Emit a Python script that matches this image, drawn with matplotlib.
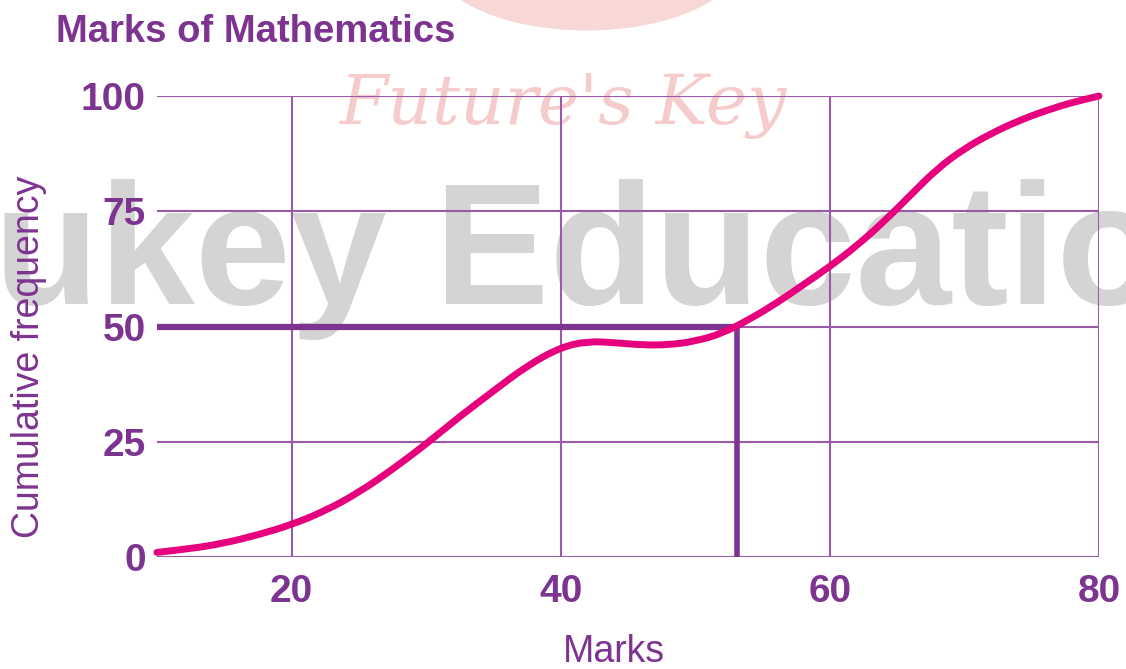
import matplotlib.pyplot as plt
from matplotlib.patches import Ellipse, PathPatch
from matplotlib.path import Path

# cumulative frequency curve (ogive)
marks = [10, 12.5, 15, 17.5, 20, 22.5, 25, 27.5, 30, 32.5, 35, 37.5, 40,
         42, 44, 46, 48, 50, 52, 54, 56, 58, 60, 62, 64, 66, 68, 70, 72,
         74, 76, 78, 80]
cum_freq = [1, 1.8, 3, 4.8, 7, 10, 14, 19, 24.5, 30.5, 36, 41.5, 45.5,
            46.8, 46.5, 46, 46, 46.8, 48.5, 51.5, 55, 59, 63, 67.5, 72.7,
            78.5, 84.3, 88.6, 91.9, 94.6, 96.8, 98.6, 100]
x_ticks = [20, 40, 60, 80]
y_ticks = [0, 25, 50, 75, 100]
median_x = 53.1
median_y = 50

purple = '#7d3490'
grid_c = '#9a5aa8'
pink = '#e6007e'

plt.rcParams['font.family'] = ['Liberation Sans', 'DejaVu Sans']

fig = plt.figure(figsize=(11.26, 6.69), dpi=100)

# watermarks (behind the axes)
fig.patches.append(Ellipse((0.521, 1.06), 0.27, 0.209,
                           transform=fig.transFigure, color='#f7d8d6',
                           zorder=0))
fig.text(-0.005, 0.545, 'ukey Education', fontsize=124, fontweight='bold',
         color='#d4d4d4', ha='left', va='baseline', zorder=0)
fig.text(0.5, 0.815, "Future's Key", fontsize=50, style='italic',
         family='DejaVu Serif', color='#f5cccb', ha='center', va='baseline',
         zorder=0)

ax = fig.add_axes([0.1394, 0.1674, 0.8366, 0.6891])
ax.set_zorder(1)
ax.patch.set_alpha(0)
ax.set_xlim(10, 80)
ax.set_ylim(0, 100)
for s in ax.spines.values():
    s.set_visible(False)

for y in y_ticks:
    ax.axhline(y, color=grid_c, lw=1.5, zorder=1)
for x in x_ticks:
    ax.axvline(x, color=grid_c, lw=1.5, zorder=1)

ax.plot([10, median_x], [median_y, median_y], color=purple, lw=4.5,
        solid_capstyle='butt', zorder=2)
ax.plot([median_x, median_x], [0, median_y], color=purple, lw=4,
        solid_capstyle='butt', zorder=2)

# smooth freehand ogive: quadratic bezier through midpoints of read points
pts = list(zip(marks, cum_freq))
verts = [pts[0]]
codes = [Path.MOVETO]
for i in range(1, len(pts) - 1):
    mid = ((pts[i][0] + pts[i + 1][0]) / 2, (pts[i][1] + pts[i + 1][1]) / 2)
    verts += [pts[i], mid]
    codes += [Path.CURVE3, Path.CURVE3]
verts.append(pts[-1])
codes.append(Path.LINETO)
ax.add_patch(PathPatch(Path(verts, codes), fill=False, edgecolor=pink,
                       lw=5, capstyle='round', joinstyle='round',
                       clip_on=False, zorder=3))

ax.set_xticks(x_ticks)
ax.set_yticks(y_ticks)
ax.tick_params(length=0, labelsize=28, labelcolor=purple)
ax.tick_params(axis='x', pad=12)
ax.tick_params(axis='y', pad=8)
for lab in ax.get_xticklabels() + ax.get_yticklabels():
    lab.set_fontweight('bold')

fig.text(0.05, 0.952, 'Marks of Mathematics', fontsize=27.5, fontweight='bold',
         color=purple, ha='left', va='center', zorder=3)
fig.text(0.545, 0.025, 'Marks', fontsize=27, color=purple,
         ha='center', va='center', zorder=3)
fig.text(0.026, 0.467, 'Cumulative frequency', fontsize=27, color=purple,
         ha='center', va='center', rotation=90, zorder=3)

fig.savefig('out.png', dpi=100)
